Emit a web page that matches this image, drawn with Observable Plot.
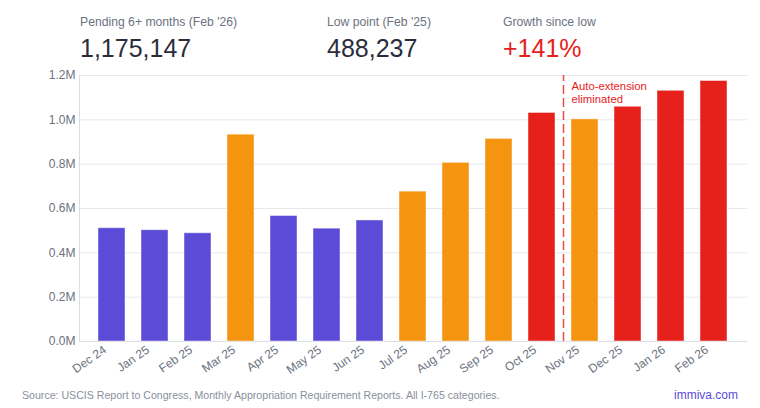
<!DOCTYPE html>
<html><head><meta charset="utf-8">
<script src="https://cdn.jsdelivr.net/npm/d3@7"></script>
<script src="https://cdn.jsdelivr.net/npm/@observablehq/plot@0.6"></script>
<style>
body{margin:0;background:#fff;font-family:"Liberation Sans",Arial,sans-serif;width:760px;height:408px;position:relative;overflow:hidden}
.stat{position:absolute;top:16px}
.lab{font-size:12.2px;line-height:13px;color:#6b7280;white-space:nowrap}
.num{font-size:25px;line-height:25px;color:#2b2d3c;margin-top:7px;white-space:nowrap}
#chart{position:absolute;left:0;top:62px}
.src{position:absolute;left:22px;top:390px;font-size:10.6px;line-height:11px;color:#8a8f9c;white-space:nowrap}
.brand{position:absolute;right:22px;top:389px;font-size:12px;line-height:13px;color:#5b4bd6}
</style></head>
<body>
<div id="stats"></div>
<div id="chart"></div>
<div class="src" id="src"></div>
<div class="brand" id="brand"></div>
<script>
const months = ["Dec 24","Jan 25","Feb 25","Mar 25","Apr 25","May 25","Jun 25","Jul 25","Aug 25","Sep 25","Oct 25","Nov 25","Dec 25","Jan 26","Feb 26"];
const pending = [511000, 502000, 488237, 933000, 566000, 509000, 546000, 676000, 806000, 914000, 1031000, 1002000, 1059000, 1131000, 1175147];
const phase = ["low","low","low","high","low","low","low","high","high","high","peak","high","peak","peak","peak"];
const phaseNames = ["low","high","peak"];
const phaseColors = ["#5b4bd6","#f4940f","#e6211c"];
const yTicks = [0, 200000, 400000, 600000, 800000, 1000000, 1200000];
const statLabels = ["Pending 6+ months (Feb '26)","Low point (Feb '25)","Growth since low"];
const statValues = ["1,175,147","488,237","+141%"];
const statColors = ["#2b2d3c","#2b2d3c","#e6211c"];
const statX = [80, 327, 503];
const annotMonth = "Nov 25";
const annotText = "Auto-extension\neliminated";
const sourceText = "Source: USCIS Report to Congress, Monthly Appropriation Requirement Reports. All I-765 categories.";
const brandText = "immiva.com";

const stats = document.getElementById("stats");
statLabels.forEach((l,i)=>{
  const d = document.createElement("div");
  d.className="stat"; d.style.left = statX[i]+"px";
  d.innerHTML = `<div class="lab">${l}</div><div class="num" style="color:${statColors[i]}">${statValues[i]}</div>`;
  stats.appendChild(d);
});
document.getElementById("src").textContent = sourceText;
document.getElementById("brand").textContent = brandText;

const data = months.map((m,i)=>({month:m, value:pending[i], phase:phase[i]}));
const red = phaseColors[2];

function build(extra){
  return Plot.plot({
    width: 760, height: 322,
    marginLeft: 79, marginRight: 13, marginTop: 13, marginBottom: 43,
    style: {fontFamily:"Liberation Sans, Arial, sans-serif", fontSize:"12px", color:"#6b7280", background:"#fff"},
    x: {domain: months, padding: 0.37, label: null},
    y: {domain: [0, 1200000], label: null},
    color: {domain: phaseNames, range: phaseColors},
    marks: [
      Plot.gridY(yTicks, {stroke:"#e8e8ec", strokeOpacity:1}),
      Plot.ruleY([0], {stroke:"#dcdde3"}),
      Plot.frame({anchor:"left", stroke:"#dcdde3"}),
      Plot.barY(data, {x:"month", y:"value", fill:"phase", stroke:"white", strokeOpacity:0.45, strokeWidth:1}),
      Plot.axisY({ticks: yTicks, tickSize:0, tickPadding:4, tickFormat: d => (d/1e6).toFixed(1)+"M", label:null, fill:"#6b7280"}),
      Plot.axisX({tickRotate:-35, tickSize:0, tickPadding:7, dx:-7, label:null, fill:"#6b7280"}),
      ...extra
    ]
  });
}
const first = build([]);
const step = first.scale("x").step;
const chart = build([
  Plot.ruleX([annotMonth], {y1:0, y2:1200000, dx:-step/2, stroke:red, strokeOpacity:0.8, strokeWidth:1.5, strokeDasharray:"9,4"}),
  Plot.text([annotText], {x:()=>annotMonth, y:()=>1200000, dx:-step/2+8, dy:6, textAnchor:"start", lineAnchor:"top", lineHeight:1.1, fill:red, fontSize:11.3})
]);
document.getElementById("chart").appendChild(chart);
</script>
</body></html>
